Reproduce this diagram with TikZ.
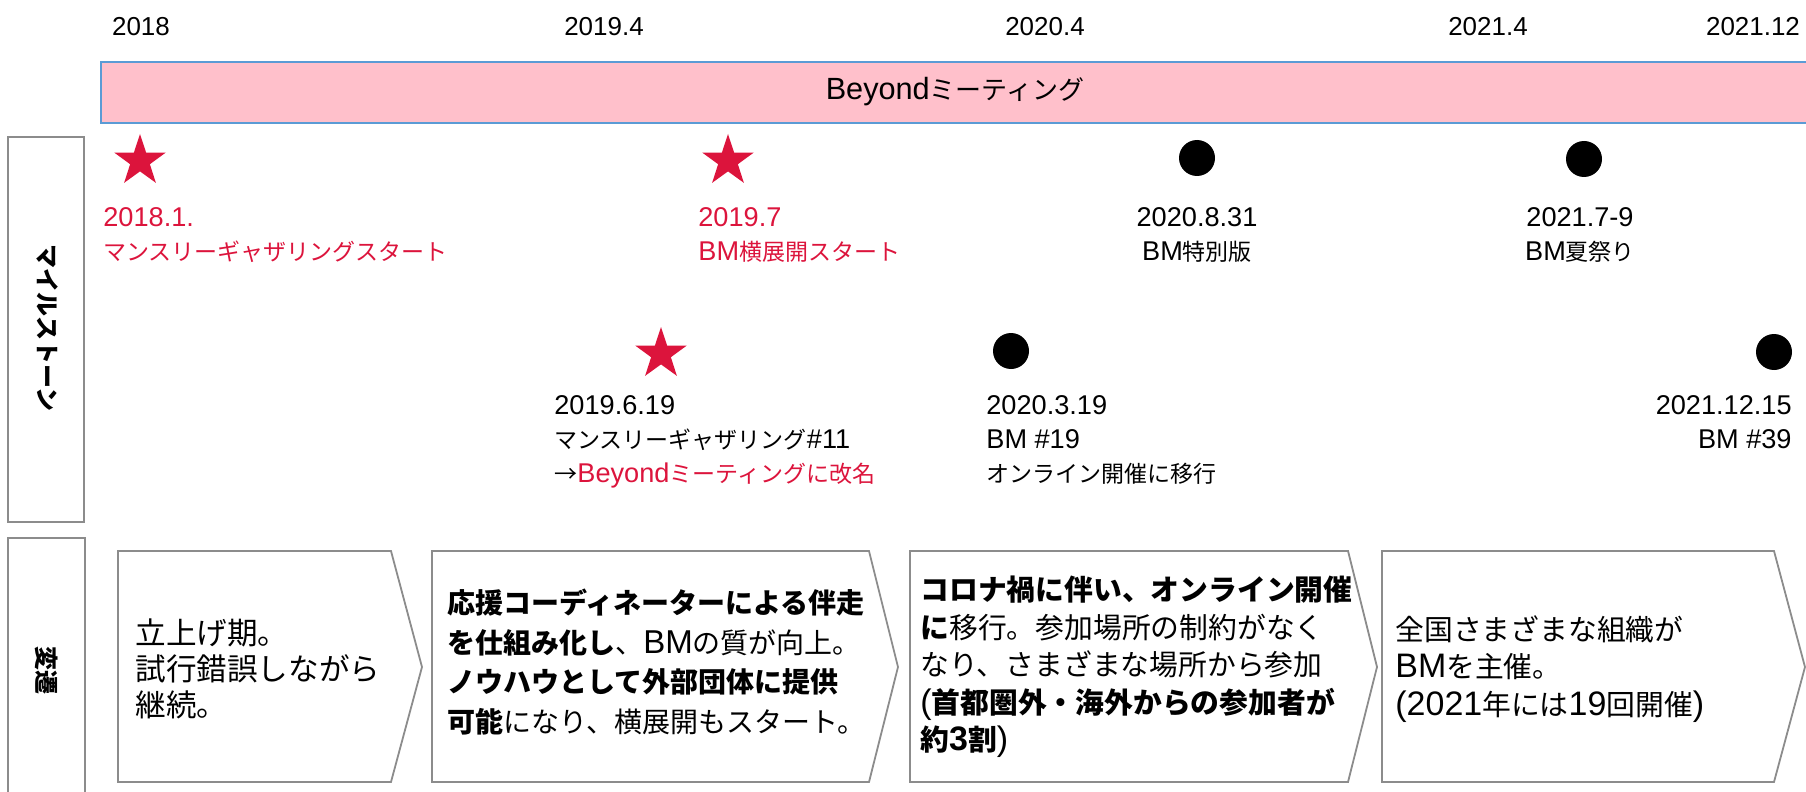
\documentclass[tikz,border=0pt]{standalone}
\usepackage{fontspec}
\usepackage{xcolor}
\setmainfont{Noto Sans CJK JP}
\newfontfamily\latfont{Liberation Sans}[Scale=1.18]
\newcommand\ltn[1]{{\latfont #1}}
\usetikzlibrary{shapes.geometric,positioning}

\definecolor{msred}{HTML}{DC143C}
\definecolor{barpink}{HTML}{FFC0CB}
\definecolor{barblue}{HTML}{5B9BD5}
\definecolor{framegray}{HTML}{8C8C8C}

\tikzset{
    year/.style={font=\latfont\fontsize{11}{14}\selectfont, inner sep=0pt},
    mslabel/.style={font=\fontsize{11.5}{17}\selectfont, inner sep=0pt},
    redstar/.style={star, star points=5, star point ratio=2.6, fill=msred, minimum size=27pt, inner sep=0pt},
    blackdot/.style={circle, fill=black, minimum size=18pt, inner sep=0pt},
    sidebox/.style={draw=framegray, line width=1.2pt},
    stageline/.style={draw=framegray, line width=0.9pt},
    stagetext/.style={font=\fontsize{14.4}{18.8}\selectfont, align=left, inner sep=0pt, anchor=west}
}

\begin{document}
\begin{tikzpicture}[x=0.5pt, y=-0.5pt]
        \useasboundingbox (0,0) rectangle (1806,792);

        % years
        \node[year] (y2018) at (141,27) {2018};
        \node[year] (y2019) at (604,27) {2019.4};
        \node[year] (y2020) at (1045,27) {2020.4};
        \node[year] (y2021) at (1488,27) {2021.4};
        \node[year] (y2112) at (1753,27) {2021.12};

        % bar
        \draw[barblue, fill=barpink, line width=1.2pt] (101,62) rectangle (1816,123);
        \node[font=\fontsize{13}{15}\selectfont] (bm) at (955,92) {\ltn{Beyond}ミーティング};

        % side labels
        \draw[sidebox] (8,137) rectangle (84,522);
        \draw[sidebox] (8,538) rectangle (85,800);
        \node[rotate=-90, font=\bfseries\fontsize{12}{14}\selectfont] (lbmile) at (47,328) {マイルストーン};
        \node[rotate=-90, font=\bfseries\fontsize{12}{14}\selectfont] (lbstage) at (47,670) {変遷};

        % milestones
        \node[redstar] (st1) at (140,161) {};
        \node[redstar] (st2) at (728,161) {};
        \node[redstar] (st3) at (661,354) {};
        \node[blackdot] (dt1) at (1197,158) {};
        \node[blackdot] (dt2) at (1584,159) {};
        \node[blackdot] (dt3) at (1011,351) {};
        \node[blackdot] (dt4) at (1774,352) {};

        \node[mslabel, align=left, anchor=north west, text=msred] (ms1) at (103,207)
            {\ltn{2018.1.}\\マンスリーギャザリングスタート};
        \node[mslabel, align=left, anchor=north west, text=msred] (ms2) at (698,207)
            {\ltn{2019.7}\\\ltn{BM}横展開スタート};
        \node[mslabel, align=center, anchor=north] (ms3) at (1197,207)
            {\ltn{2020.8.31}\\\ltn{BM}特別版};
        \node[mslabel, align=center, anchor=north] (ms4) at (1580,207)
            {\ltn{2021.7-9}\\\ltn{BM}夏祭り};
        \node[mslabel, align=left, anchor=north west] (ms5) at (554,395)
            {\ltn{2019.6.19}\\マンスリーギャザリング\ltn{\#11}\\→\textcolor{msred}{\ltn{Beyond}ミーティングに改名}};
        \node[mslabel, align=left, anchor=north west] (ms6) at (986,395)
            {\ltn{2020.3.19}\\\ltn{BM \#19}\\オンライン開催に移行};
        \node[mslabel, align=right, anchor=north east] (ms7) at (1792,395)
            {\ltn{2021.12.15}\\\ltn{BM \#39}};

        % stages
        \foreach \xa/\xb/\xc in {118/391/422, 432/869/898, 910/1348/1377, 1382/1774/1805}
            \draw[stageline] (\xa,551) -- (\xb,551) -- (\xc,667) -- (\xb,782) -- (\xa,782) -- cycle;

        \node[stagetext, font=\fontsize{15.3}{18}\selectfont] (sg1) at (135,669)
            {立上げ期。\\試行錯誤しながら\\継続。};
        \node[stagetext, font=\fontsize{14}{19.7}\selectfont] (sg2) at (447,662)
            {\textbf{応援コーディネーターによる伴走}\\\textbf{を仕組み化し}、\ltn{BM}の質が向上。\\\textbf{ノウハウとして外部団体に提供}\\\textbf{可能}になり、横展開もスタート。};
        \node[stagetext] (sg3) at (920,667)
            {\textbf{コロナ禍に伴い、オンライン開催}\\\textbf{に}移行。参加場所の制約がなく\\なり、さまざまな場所から参加\\\ltn{(}\textbf{首都圏外・海外からの参加者が}\\\textbf{約\ltn{3}割}\ltn{)}};
        \node[stagetext] (sg4) at (1395,669)
            {全国さまざまな組織が\\\ltn{BM}を主催。\\\ltn{(2021}年には\ltn{19}回開催\ltn{)}};
\end{tikzpicture}
\end{document}
